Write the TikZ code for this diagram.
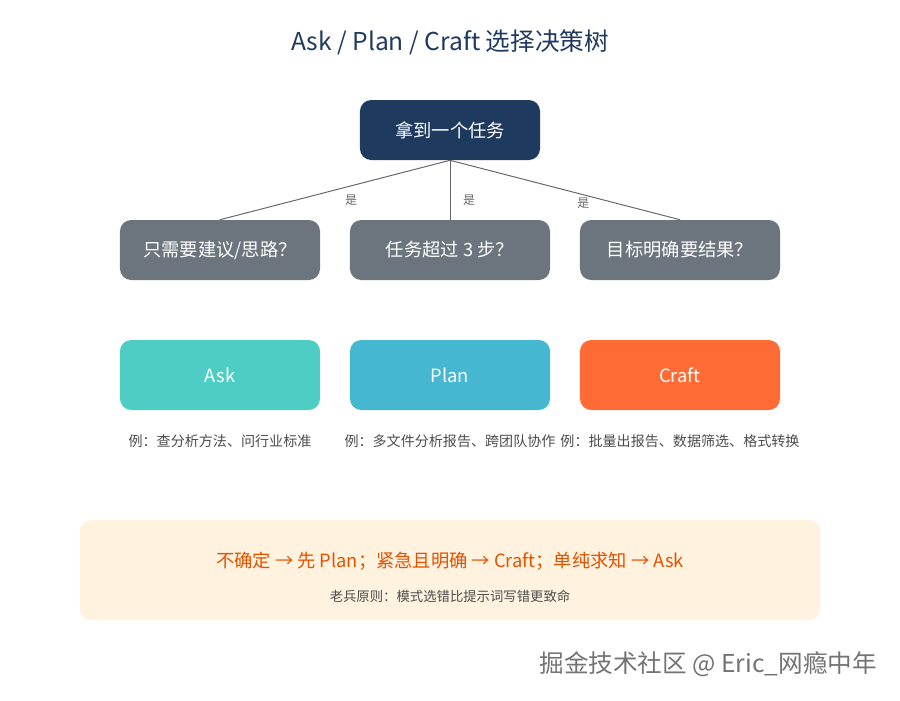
\documentclass[tikz,border=0pt]{standalone}
\usepackage{fontspec}
\usepackage{tikz}
\usepackage{xcolor}
\usetikzlibrary{positioning}
\setmainfont{Noto Sans CJK SC}
\definecolor{navycol}{HTML}{1F3A5F}
\definecolor{askcol}{HTML}{4ECDC4}
\definecolor{plancol}{HTML}{45B7D1}
\definecolor{craftcol}{HTML}{FF6B35}
\definecolor{qcol}{HTML}{6C757D}
\definecolor{tipcol}{HTML}{E65100}
\definecolor{notecol}{HTML}{FFF3E0}

\begin{document}
\begin{tikzpicture}[
  x=0.025cm, y=-0.025cm,
  boxnode/.style={rounded corners=8pt, minimum width=5cm, minimum height=1.5cm,
                  font=\fontsize{13}{15}\selectfont, text=white, inner sep=2pt},
  rootnode/.style={boxnode, fill=navycol, minimum width=4.5cm},
  questnode/.style={boxnode, fill=qcol},
  modenode/.style={boxnode, minimum height=1.75cm},
  examplenode/.style={font=\fontsize{10}{12}\selectfont, text=black!70},
  yeslabel/.style={font=\fontsize{8.5}{10}\selectfont, text=black!60, inner sep=1pt},
  link/.style={draw=black!60, line width=0.7pt},
]
\useasboundingbox (0,0) rectangle (900,700);

% Title
\node[font=\fontsize{17.5}{20}\selectfont, text=navycol] (title) at (450,42) {Ask / Plan / Craft 选择决策树};

% Root
\node[rootnode] (task) at (450,130) {拿到一个任务};

% Question row
\node[questnode] (qask)   at (220,250) {只需要建议/思路？};
\node[questnode] (qplan)  at (450,250) {任务超过 3 步？};
\node[questnode] (qcraft) at (680,250) {目标明确要结果？};

% Mode row
\node[modenode, fill=askcol]   (ask)   at (220,375) {Ask};
\node[modenode, fill=plancol]  (plan)  at (450,375) {Plan};
\node[modenode, fill=craftcol] (craft) at (680,375) {Craft};

% Examples
\node[examplenode] (exask)   at (220,441) {例：查分析方法、问行业标准};
\node[examplenode] (explan)  at (450,441) {例：多文件分析报告、跨团队协作};
\node[examplenode] (excraft) at (680,441) {例：批量出报告、数据筛选、格式转换};

% --- links ---
\draw[link] (task.south) -- node[yeslabel, pos=0.43, below=5pt] {是} (qask.north);
\draw[link] (task.south) -- node[yeslabel, pos=0.67, right=8pt] {是} (qplan.north);
\draw[link] (task.south) -- node[yeslabel, pos=0.58, below=1pt] {是} (qcraft.north);

% Tip box
\node[fill=notecol, rounded corners=8pt, minimum width=18.5cm, minimum height=2.5cm] (tipbox) at (450,570) {};
\node[font=\fontsize{13}{15}\selectfont, text=tipcol] (tip) at (450,561)
  {不确定 → 先 Plan；紧急且明确 → Craft；单纯求知 → Ask};
\node[examplenode, font=\fontsize{9.5}{11}\selectfont] (rule) at (450,596) {老兵原则：模式选错比提示词写错更致命};

% Watermark
\node[font=\fontsize{17.5}{20}\selectfont, text=black!55, anchor=east] (mark) at (882,664) {掘金技术社区 @ Eric\_网瘾中年};

\end{tikzpicture}
\end{document}
